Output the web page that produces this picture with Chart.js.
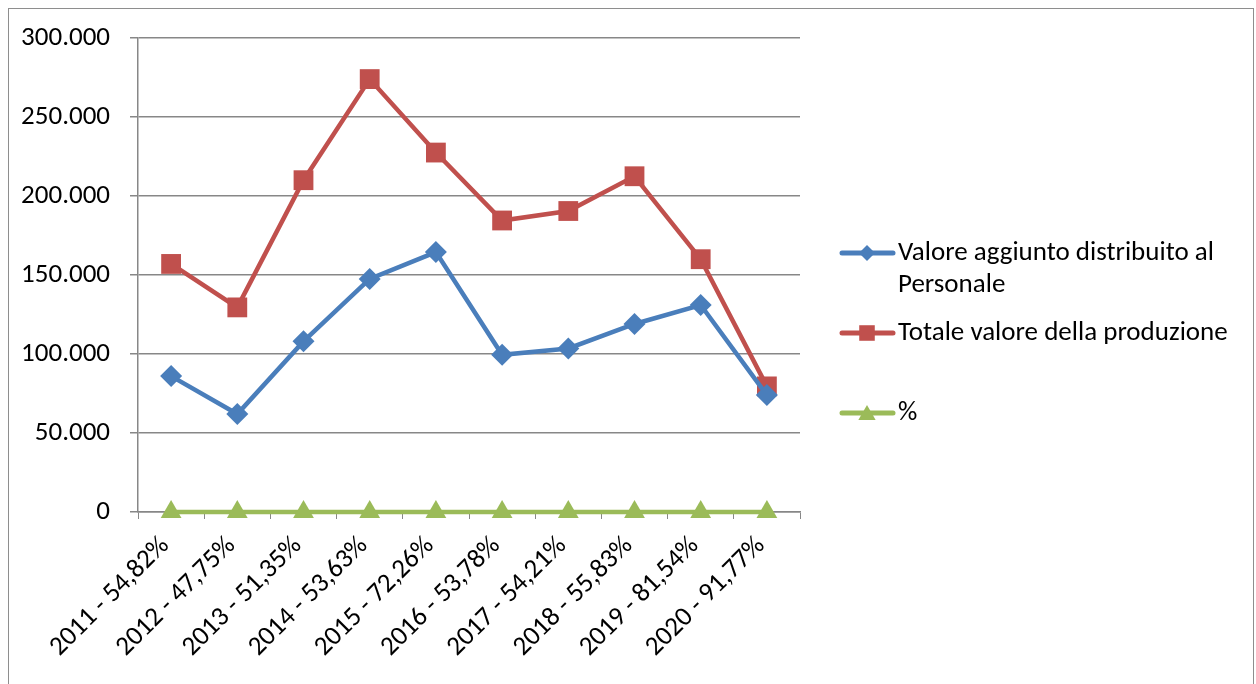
<!DOCTYPE html>
<html>
<head>
<meta charset="utf-8">
<script src="https://cdn.jsdelivr.net/npm/chart.js@4.4.1/dist/chart.umd.min.js"></script>
<style>
  html, body { margin: 0; padding: 0; background: #fff; }
  #wrap { position: relative; width: 1256px; height: 684px; overflow: hidden; }
  #frame { position: absolute; left: 8px; top: 8px; width: 1246px; height: 700px; border: 1px solid #8e8e8e; box-sizing: border-box; }
  #grafico { position: absolute; left: 0; top: 0; }
</style>
</head>
<body>
<div id="wrap">
  <div id="frame"></div>
  <canvas id="grafico" width="1256" height="684"></canvas>
</div>
<script>
const categorie = [
  "2011 - 54,82%", "2012 - 47,75%", "2013 - 51,35%", "2014 - 53,63%", "2015 - 72,26%",
  "2016 - 53,78%", "2017 - 54,21%", "2018 - 55,83%", "2019 - 81,54%", "2020 - 91,77%",
];
const valorePersonale = [86000, 62000, 108000, 147500, 164500, 99500, 103500, 119000, 131000, 74000];
const totaleProduzione = [157000, 129500, 210000, 274000, 227500, 184500, 190500, 212500, 160000, 79500];
const percentuale = [0.5482, 0.4775, 0.5135, 0.5363, 0.7226, 0.5378, 0.5421, 0.5583, 0.8154, 0.9177];

const FONT = "Carlito, Lato, sans-serif";
const GRIGIO = "#878787";

function formattaMigliaia(v) {
  return String(v).replace(/\B(?=(\d{3})+(?!\d))/g, ".");
}

// legenda disegnata a mano: linea + marker come in Excel
const legendaExcel = {
  id: "legendaExcel",
  afterDraw(chart) {
    const ctx = chart.ctx;
    const voci = [
      { y: 253, righe: ["Valore aggiunto distribuito al", "Personale"], r: 8 },
      { y: 333, righe: ["Totale valore della produzione"], r: 11 },
      { y: 413, righe: ["%"], r: 10 },
    ];
    chart.data.datasets.forEach((ds, i) => {
      const v = voci[i];
      ctx.save();
      ctx.strokeStyle = ds.borderColor;
      ctx.lineWidth = 5;
      ctx.lineCap = "round";
      ctx.beginPath();
      ctx.moveTo(842, v.y);
      ctx.lineTo(893, v.y);
      ctx.stroke();
      ctx.fillStyle = ds.backgroundColor;
      ctx.strokeStyle = ds.backgroundColor;
      Chart.helpers.drawPoint(ctx, { pointStyle: ds.pointStyle, radius: v.r, borderWidth: 0 }, 867, v.y + (ds.pointStyle === "triangle" ? 2 : 0));
      ctx.fillStyle = "#000";
      ctx.font = "27px " + FONT;
      ctx.textBaseline = "middle";
      v.righe.forEach((t, k) => ctx.fillText(t, 898, v.y + k * 32));
      ctx.restore();
    });
  },
};

new Chart(document.querySelector("#grafico"), {
  type: "line",
  data: {
    labels: categorie,
    datasets: [
      {
        label: "Valore aggiunto distribuito al Personale",
        data: valorePersonale,
        borderColor: "#4a7ebb",
        backgroundColor: "#4a7ebb",
        borderWidth: 4.5,
        pointStyle: "rectRot",
        pointRadius: 11,
        pointBorderWidth: 0,
        tension: 0,
        clip: false,
      },
      {
        label: "Totale valore della produzione",
        data: totaleProduzione,
        borderColor: "#c0504d",
        backgroundColor: "#c0504d",
        borderWidth: 4.5,
        pointStyle: "rect",
        pointRadius: 14,
        pointBorderWidth: 0,
        tension: 0,
        clip: false,
      },
      {
        label: "%",
        data: percentuale,
        borderColor: "#9bbb59",
        backgroundColor: "#9bbb59",
        borderWidth: 4.5,
        pointStyle: "triangle",
        pointRadius: 12,
        pointBorderWidth: 0,
        tension: 0,
        clip: false,
      },
    ],
  },
  options: {
    responsive: false,
    animation: false,
    layout: { padding: { top: 38, right: 456, left: 0, bottom: 0 } },
    plugins: { legend: { display: false }, tooltip: { enabled: false } },
    scales: {
      x: {
        offset: true,
        grid: { offset: true, drawOnChartArea: false, drawTicks: true, tickLength: 7, color: GRIGIO },
        border: { color: GRIGIO, width: 1.5 },
        ticks: { color: "#000", font: { family: FONT, size: 27 }, maxRotation: 45, minRotation: 45, padding: 11, labelOffset: -6, autoSkip: false },
        afterFit: (s) => { s.height = 172; },
      },
      y: {
        min: 0,
        max: 300000,
        ticks: { stepSize: 50000, color: "#000", font: { family: FONT, size: 27 }, padding: 20, callback: (v) => formattaMigliaia(v) },
        grid: { color: GRIGIO, lineWidth: 1.5, tickLength: 8 },
        border: { color: GRIGIO, width: 1.5 },
        afterFit: (s) => { s.width = 138; },
      },
    },
  },
  plugins: [legendaExcel],
});
</script>
</body>
</html>
